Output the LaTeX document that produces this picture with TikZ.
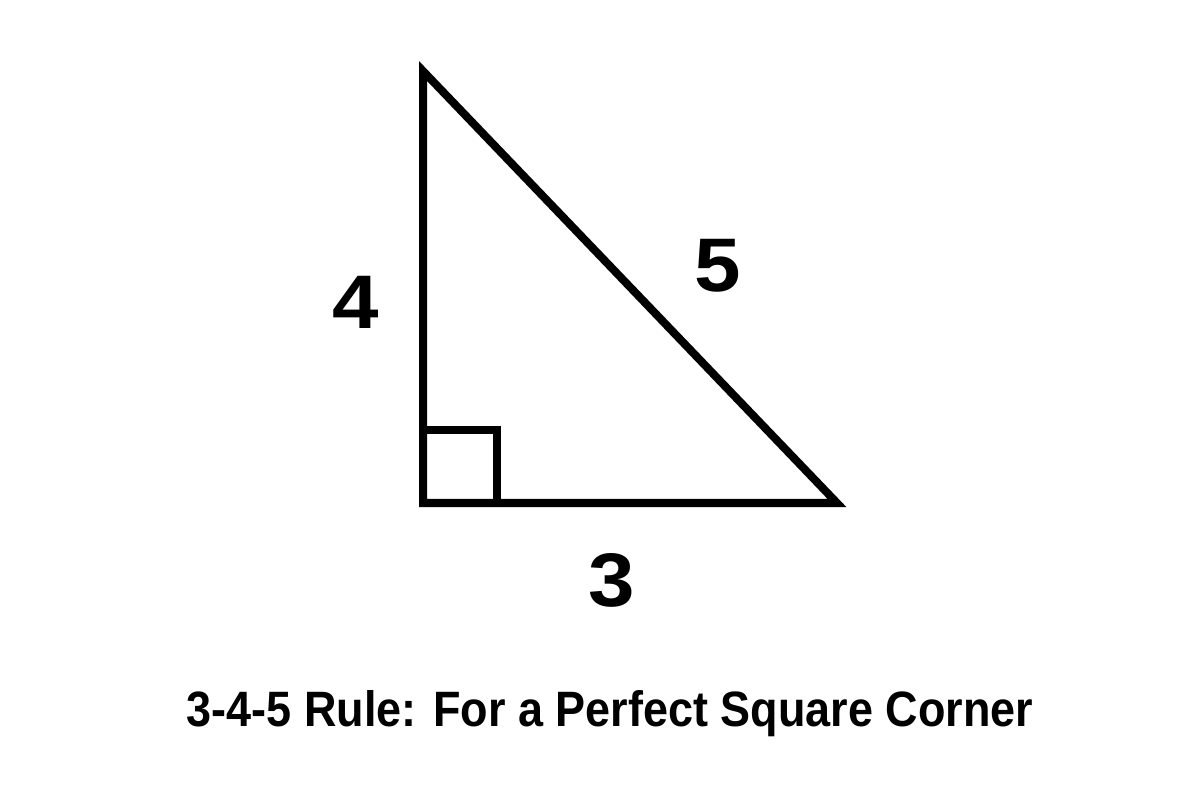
\documentclass[tikz,border=0pt]{standalone}
\usepackage{fontspec}
\setmainfont{Liberation Sans}

\tikzset{
    leg/.style={line width=5.7pt, line join=miter},
    sidelabel/.style={font=\fontsize{54}{60}\selectfont\bfseries, inner sep=0pt},
}

\begin{document}
\begin{tikzpicture}[x=0.025cm, y=-0.025cm]
    \useasboundingbox (0,0) rectangle (1200,800);

    \coordinate (top) at (423,71);
    \coordinate (corner) at (423,503);
    \coordinate (right) at (837,503);

    \draw[leg] (top) -- (corner) -- (right) -- cycle;
    \draw[leg] (423,430) -- (497,430) -- (497,503);

    \node[sidelabel] (four) at (356,302) {\scalebox{1.1}[1]{4}};
    \node[sidelabel] (five) at (718,266) {\scalebox{1.1}[1]{5}};
    \node[sidelabel] (three) at (612,580) {\scalebox{1.1}[1]{3}};

    \node[inner sep=0pt, anchor=base] (title) at (610,726)
        {\resizebox{21.15cm}{0.9cm}{\bfseries 3-4-5 Rule: For a Perfect Square Corner}};
\end{tikzpicture}
\end{document}
